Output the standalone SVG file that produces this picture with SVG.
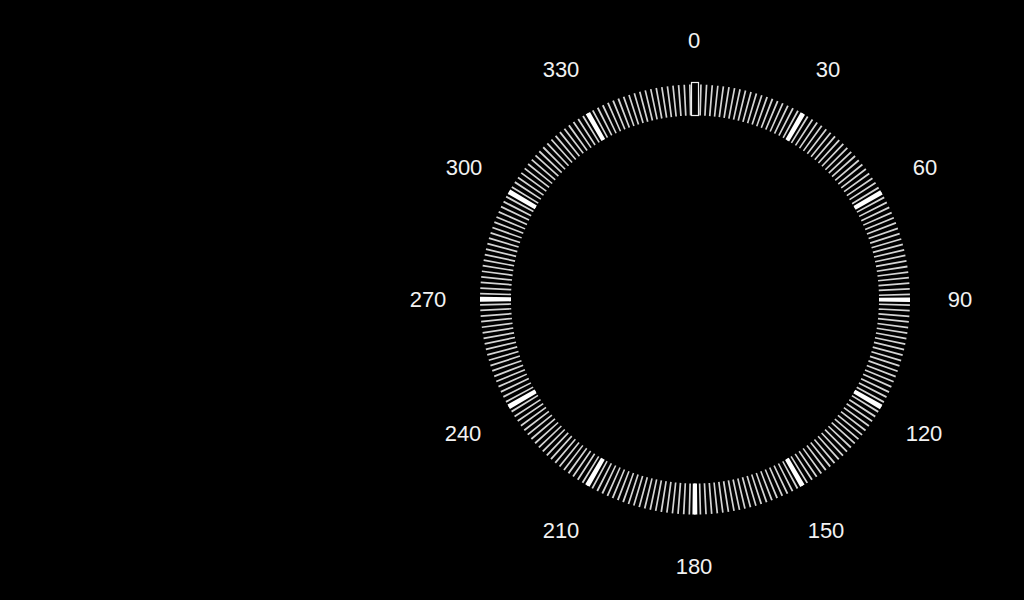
<svg xmlns="http://www.w3.org/2000/svg" width="1024" height="600" viewBox="0 0 1024 600">
  <style>
    .lbl { font-family: "Liberation Sans", Arial, sans-serif; font-size: 22px; fill: #f2f2f2; text-anchor: middle; }
  </style>
  <rect x="0" y="0" width="1024" height="600" fill="#000"/>
  <g id="dial">
    <circle cx="695" cy="299.5" r="199.5" fill="none" stroke="#d4d4d4" stroke-width="31" stroke-dasharray="1.7 3.5229" stroke-dashoffset="0.85"/>
    <circle cx="695" cy="299.5" r="199.5" fill="none" stroke="#ffffff" stroke-width="31" stroke-dasharray="4.6 99.858" stroke-dashoffset="2.3"/>
    <rect id="north" x="691.5" y="82.5" width="7" height="33" fill="#000" stroke="#f0f0f0" stroke-width="1.2"/>
  </g>
  <g id="labels">
    <text class="lbl" x="694" y="48">0</text>
    <text class="lbl" x="828" y="77">30</text>
    <text class="lbl" x="925" y="175">60</text>
    <text class="lbl" x="960" y="307">90</text>
    <text class="lbl" x="924" y="441">120</text>
    <text class="lbl" x="826" y="538">150</text>
    <text class="lbl" x="694" y="574">180</text>
    <text class="lbl" x="561" y="538">210</text>
    <text class="lbl" x="463" y="441">240</text>
    <text class="lbl" x="428" y="307">270</text>
    <text class="lbl" x="464" y="175">300</text>
    <text class="lbl" x="561" y="77">330</text>
  </g>
</svg>
